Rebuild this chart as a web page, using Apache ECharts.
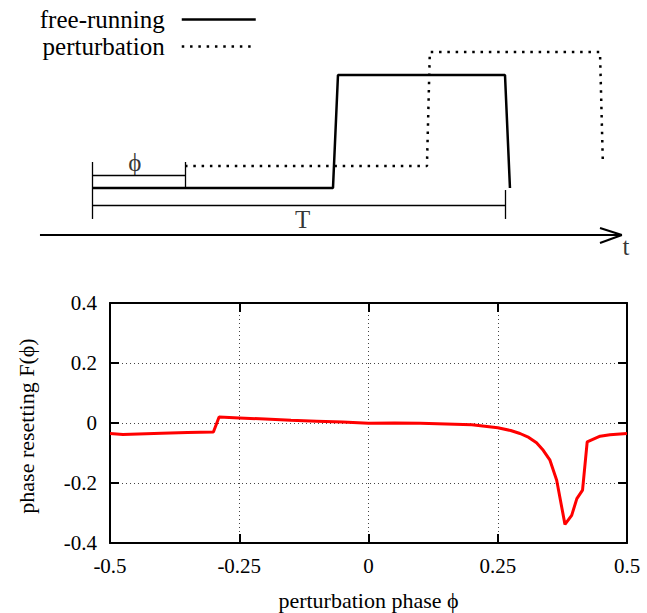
<!DOCTYPE html>
<html>
<head>
<meta charset="utf-8">
<script src="https://cdn.jsdelivr.net/npm/echarts@6/dist/echarts.min.js"></script>
<style>
  html, body { margin: 0; padding: 0; background: #ffffff; }
  #chart { width: 647px; height: 613px; }
</style>
</head>
<body>
<div id="chart"></div>
<script>
// ---- Phase resetting curve (bottom panel) ----
const phaseX = [-0.5, -0.475, -0.4, -0.35, -0.3, -0.289, -0.25, -0.2, -0.15, -0.1, -0.05, 0, 0.05, 0.1, 0.15, 0.2, 0.25, 0.275, 0.293, 0.31, 0.325, 0.338, 0.351, 0.364, 0.38, 0.393, 0.403, 0.414, 0.423, 0.448, 0.467, 0.5];
const resetF = [-0.035, -0.038, -0.034, -0.032, -0.030, 0.020, 0.017, 0.013, 0.009, 0.006, 0.003, -0.001, 0.000, -0.001, -0.003, -0.006, -0.016, -0.025, -0.035, -0.048, -0.066, -0.091, -0.124, -0.191, -0.338, -0.308, -0.252, -0.224, -0.063, -0.044, -0.039, -0.035];
const xTicks = [-0.5, -0.25, 0, 0.25, 0.5];
const yTicks = [-0.4, -0.2, 0, 0.2, 0.4];

// ---- Schematic (top panel), time in units of T, level in units of pulse height ----
const freeRunT = [0, 0.5835, 0.5956, 1, 1.012];
const freeRunV = [0, 0, 1, 1, 0];
const pertT = [0.2252, 0.811, 0.818, 1.230, 1.237];
const pertV = [0.195, 0.195, 1.204, 1.204, 0.212];
const bracketSegs = [
  [[0, 0.23], [0, -0.274]],
  [[0, 0.115], [0.2252, 0.115]],
  [[0.2252, 0.23], [0.2252, 0]],
  [[0, -0.150], [1, -0.150]],
  [[1, -0.018], [1, -0.274]]
];
const timeAxisSegs = [
  [[-0.126, -0.416], [1.283, -0.416]],
  [[1.230, -0.354], [1.283, -0.416]],
  [[1.283, -0.416], [1.230, -0.487]]
];
const schemLabelNames = ['ϕ', 'T', 't'];
const schemLabelPos = [[0.104, 0.226], [0.51, -0.283], [1.293, -0.522]];
const legendNames = ['free-running', 'perturbation'];

const FONT = "'Liberation Serif', 'DejaVu Serif', serif";
const chart = echarts.init(document.getElementById('chart'), null, { renderer: 'svg' });

const axisLineStyle = { show: true, onZero: false, lineStyle: { color: '#000', width: 2 } };
const tickStyle = { show: true, inside: true, length: 9, lineStyle: { color: '#000', width: 2 } };
const gridDots = { show: true, lineStyle: { type: [1, 3], color: '#444', width: 1 } };

const option = {
  animation: false,
  backgroundColor: '#ffffff',
  grid: [
    { left: 110, top: 303, width: 517, height: 240, containLabel: false },
    { left: 0, top: 0, width: 647, height: 260, containLabel: false }
  ],
  legend: {
    data: legendNames,
    orient: 'vertical',
    right: 385,
    top: 2,
    align: 'right',
    itemWidth: 74,
    itemHeight: 25,
    itemGap: 2,
    selectedMode: false,
    textStyle: { fontFamily: FONT, fontSize: 25, color: '#000', lineHeight: 25, padding: [0, 12, 0, 0] },
    itemStyle: { opacity: 0, borderWidth: 0 },
    lineStyle: { width: 2.5, opacity: 1 }
  },
  xAxis: [
    {
      gridIndex: 0, type: 'value', position: 'bottom',
      min: xTicks[0], max: xTicks[xTicks.length - 1], interval: xTicks[1] - xTicks[0],
      axisLine: axisLineStyle, axisTick: tickStyle,
      axisLabel: { color: '#000', fontFamily: FONT, fontSize: 21, margin: 12 },
      splitLine: gridDots,
      name: 'perturbation phase ϕ', nameLocation: 'middle', nameGap: 46,
      nameTextStyle: { color: '#000', fontFamily: FONT, fontSize: 22 }
    },
    {
      gridIndex: 0, type: 'value', position: 'top',
      min: xTicks[0], max: xTicks[xTicks.length - 1], interval: xTicks[1] - xTicks[0],
      axisLine: axisLineStyle, axisTick: tickStyle,
      axisLabel: { show: false }, splitLine: { show: false }
    },
    { gridIndex: 1, type: 'value', min: -0.22276, max: 1.34383, show: false }
  ],
  yAxis: [
    {
      gridIndex: 0, type: 'value', position: 'left',
      min: yTicks[0], max: yTicks[yTicks.length - 1], interval: yTicks[1] - yTicks[0],
      axisLine: axisLineStyle, axisTick: tickStyle,
      axisLabel: { color: '#000', fontFamily: FONT, fontSize: 21, margin: 13 },
      splitLine: gridDots,
      name: 'phase resetting F(ϕ)', nameLocation: 'middle', nameGap: 73, nameRotate: 90,
      nameTextStyle: { color: '#000', fontFamily: FONT, fontSize: 22, padding: [0, 6, 0, 0] }
    },
    {
      gridIndex: 0, type: 'value', position: 'right',
      min: yTicks[0], max: yTicks[yTicks.length - 1], interval: yTicks[1] - yTicks[0],
      axisLine: axisLineStyle, axisTick: tickStyle,
      axisLabel: { show: false }, splitLine: { show: false }
    },
    { gridIndex: 1, type: 'value', min: -0.63717, max: 1.66372, show: false }
  ],
  series: [
    {
      name: 'F', type: 'line', xAxisIndex: 0, yAxisIndex: 0,
      data: phaseX.map((x, i) => [x, resetF[i]]),
      symbol: 'none', z: 5,
      lineStyle: { color: '#ff0000', width: 3 }
    },
    {
      name: legendNames[0], type: 'line', xAxisIndex: 2, yAxisIndex: 2,
      data: freeRunT.map((t, i) => [t, freeRunV[i]]),
      symbol: 'none', clip: false, color: '#000',
      lineStyle: { color: '#000', width: 2.5 }
    },
    {
      name: legendNames[1], type: 'line', xAxisIndex: 2, yAxisIndex: 2,
      data: pertT.map((t, i) => [t, pertV[i]]),
      symbol: 'none', clip: false, color: '#000',
      lineStyle: { color: '#000', width: 2.5, type: [2.5, 5.8] }
    },
    {
      name: 'brackets', type: 'lines', coordinateSystem: 'cartesian2d', xAxisIndex: 2, yAxisIndex: 2,
      data: bracketSegs.map(s => ({ coords: s })),
      lineStyle: { color: '#000', width: 1.3, opacity: 1 }, clip: false
    },
    {
      name: 'time axis', type: 'lines', coordinateSystem: 'cartesian2d', xAxisIndex: 2, yAxisIndex: 2,
      data: timeAxisSegs.map(s => ({ coords: s })),
      lineStyle: { color: '#000', width: 2, opacity: 1 }, clip: false
    },
    {
      name: 'labels', type: 'scatter', xAxisIndex: 2, yAxisIndex: 2,
      data: schemLabelNames.map((n, i) => ({ name: n, value: schemLabelPos[i] })),
      symbolSize: 0, clip: false, color: '#000',
      itemStyle: { color: '#000' },
      emphasis: { disabled: true },
      label: {
        show: true, position: [0, 0], align: 'center', verticalAlign: 'middle',
        formatter: p => p.name,
        color: '#000', textBorderWidth: 0, textBorderColor: 'transparent',
        fontFamily: FONT, fontSize: 25
      }
    }
  ]
};
chart.setOption(option);
</script>
</body>
</html>
